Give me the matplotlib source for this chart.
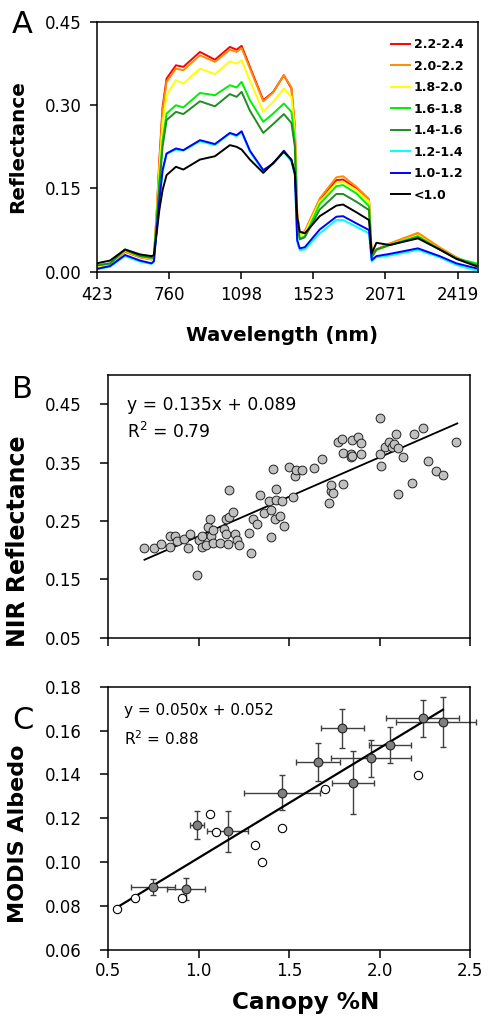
import matplotlib
matplotlib.use('Agg')
import matplotlib.pyplot as plt
import numpy as np

plt.rcParams['font.family'] = 'DejaVu Sans'

# ---- panel A: mean spectra per canopy %N class (x = band position) ----
band_pos = [0, 7.4, 15.7, 24.0, 30.4, 31.7, 33.2, 34.7, 36.5, 38.7, 43.9, 48.0, 57.2,
            65.5, 73.8, 77.5, 80.3, 84.9, 92.3, 97.8, 103.7, 107.9, 109.8, 111.1, 112.5,
            115.3, 123.6, 132.8, 136.5, 143.9, 150.9, 152.4, 155.0, 162.4, 178.0, 190.0,
            199.3, 210.3]
wl_ticks = [0, 40, 80, 120, 160, 200]
wl_labels = ['423', '760', '1098', '1523', '2071', '2419']

class_labels = ['2.2-2.4', '2.0-2.2', '1.8-2.0', '1.6-1.8', '1.4-1.6', '1.2-1.4', '1.0-1.2', '<1.0']
class_colors = ['#ff0000', '#ff8c00', '#ffff00', '#00ee00', '#228b22', '#00ffff', '#0000ff', '#000000']

refl_22 = [0.009, 0.013, 0.036, 0.026, 0.022, 0.027, 0.105, 0.201, 0.297, 0.348, 0.372, 0.369, 0.396,
           0.382, 0.405, 0.400, 0.407, 0.369, 0.309, 0.324, 0.354, 0.330, 0.261, 0.105, 0.069,
           0.072, 0.128, 0.165, 0.166, 0.150, 0.129, 0.030, 0.040, 0.050, 0.068, 0.042, 0.025, 0.010]
refl_20 = [0.009, 0.013, 0.036, 0.026, 0.022, 0.026, 0.102, 0.195, 0.291, 0.342, 0.366, 0.363, 0.390,
           0.378, 0.400, 0.396, 0.403, 0.366, 0.307, 0.323, 0.354, 0.332, 0.262, 0.105, 0.069,
           0.073, 0.132, 0.170, 0.172, 0.153, 0.131, 0.030, 0.040, 0.051, 0.070, 0.044, 0.026, 0.010]
refl_18 = [0.009, 0.013, 0.038, 0.027, 0.023, 0.026, 0.099, 0.183, 0.267, 0.318, 0.345, 0.339, 0.366,
           0.356, 0.379, 0.375, 0.381, 0.344, 0.288, 0.306, 0.330, 0.315, 0.252, 0.102, 0.066,
           0.069, 0.126, 0.160, 0.162, 0.147, 0.126, 0.028, 0.039, 0.048, 0.066, 0.040, 0.024, 0.009]
refl_16 = [0.012, 0.014, 0.040, 0.028, 0.025, 0.026, 0.093, 0.165, 0.237, 0.285, 0.300, 0.296, 0.322,
           0.318, 0.336, 0.332, 0.342, 0.309, 0.270, 0.285, 0.303, 0.288, 0.237, 0.093, 0.060,
           0.063, 0.122, 0.154, 0.156, 0.141, 0.118, 0.027, 0.039, 0.048, 0.064, 0.040, 0.024, 0.015]
refl_14 = [0.011, 0.015, 0.039, 0.028, 0.025, 0.026, 0.087, 0.153, 0.225, 0.273, 0.288, 0.284, 0.307,
           0.298, 0.320, 0.315, 0.324, 0.290, 0.250, 0.266, 0.284, 0.268, 0.225, 0.090, 0.058,
           0.062, 0.112, 0.140, 0.140, 0.126, 0.111, 0.026, 0.040, 0.048, 0.062, 0.040, 0.024, 0.012]
refl_12 = [0.004, 0.009, 0.028, 0.018, 0.014, 0.018, 0.075, 0.126, 0.180, 0.212, 0.220, 0.218, 0.235,
           0.228, 0.249, 0.244, 0.251, 0.216, 0.181, 0.194, 0.216, 0.198, 0.174, 0.054, 0.039,
           0.040, 0.069, 0.093, 0.093, 0.081, 0.069, 0.018, 0.026, 0.029, 0.039, 0.026, 0.012, 0.002]
refl_10 = [0.005, 0.010, 0.030, 0.020, 0.015, 0.019, 0.075, 0.129, 0.183, 0.213, 0.222, 0.219, 0.237,
           0.230, 0.250, 0.246, 0.253, 0.218, 0.183, 0.195, 0.218, 0.201, 0.177, 0.057, 0.042,
           0.044, 0.076, 0.099, 0.100, 0.087, 0.075, 0.021, 0.028, 0.032, 0.042, 0.028, 0.015, 0.006]
refl_lt1 = [0.015, 0.020, 0.040, 0.031, 0.028, 0.030, 0.069, 0.111, 0.147, 0.174, 0.189, 0.184, 0.202,
            0.208, 0.228, 0.225, 0.220, 0.202, 0.178, 0.196, 0.216, 0.202, 0.177, 0.099, 0.072,
            0.069, 0.100, 0.119, 0.121, 0.107, 0.093, 0.033, 0.052, 0.048, 0.060, 0.040, 0.023, 0.010]

# ---- panel B: NIR reflectance vs canopy %N ----
nir_n = [0.70, 0.75, 0.79, 0.84, 0.84, 0.87, 0.88, 0.92, 0.94, 0.95, 0.99, 1.00, 1.02, 1.02, 1.04,
         1.05, 1.06, 1.07, 1.08, 1.08, 1.12, 1.14, 1.15, 1.16, 1.15, 1.17, 1.17, 1.19, 1.20, 1.21,
         1.22, 1.28, 1.29, 1.30, 1.32, 1.34, 1.36, 1.39, 1.40, 1.40, 1.41, 1.42, 1.43, 1.43, 1.45,
         1.46, 1.47, 1.50, 1.52, 1.53, 1.54, 1.57, 1.64, 1.68, 1.72, 1.73, 1.73, 1.74, 1.77, 1.79,
         1.80, 1.80, 1.84, 1.84, 1.85, 1.85, 1.88, 1.90, 1.90, 2.00, 2.00, 2.01, 2.03, 2.05, 2.07,
         2.08, 2.09, 2.10, 2.10, 2.13, 2.18, 2.19, 2.24, 2.27, 2.31, 2.35, 2.42]
nir_refl = [0.204, 0.204, 0.211, 0.205, 0.224, 0.224, 0.215, 0.219, 0.204, 0.228, 0.157, 0.217, 0.224,
            0.205, 0.208, 0.240, 0.254, 0.225, 0.235, 0.212, 0.213, 0.236, 0.254, 0.211, 0.228,
            0.257, 0.303, 0.265, 0.227, 0.217, 0.208, 0.229, 0.195, 0.254, 0.244, 0.294, 0.263,
            0.284, 0.268, 0.223, 0.339, 0.254, 0.305, 0.286, 0.258, 0.285, 0.241, 0.342, 0.291,
            0.327, 0.337, 0.338, 0.340, 0.356, 0.281, 0.301, 0.311, 0.298, 0.385, 0.390, 0.367,
            0.313, 0.364, 0.360, 0.388, 0.362, 0.394, 0.383, 0.364, 0.427, 0.365, 0.344, 0.376,
            0.385, 0.376, 0.381, 0.399, 0.375, 0.296, 0.360, 0.315, 0.399, 0.410, 0.353, 0.335,
            0.328, 0.385]
fitB_slope, fitB_icpt = 0.135, 0.089
fitB_range = [0.70, 2.43]

# ---- panel C: MODIS albedo vs canopy %N ----
grp_n = [0.748, 0.93, 0.989, 1.16, 1.463, 1.66, 1.795, 1.854, 1.953, 2.058, 2.238, 2.351]
grp_alb = [0.0887, 0.0878, 0.117, 0.114, 0.1317, 0.1458, 0.161, 0.1363, 0.1473, 0.1534, 0.1656, 0.164]
grp_n_err_lo = [0.12, 0.106, 0.04, 0.115, 0.21, 0.12, 0.12, 0.117, 0.22, 0.115, 0.20, 0.258]
grp_n_err_hi = [0.12, 0.106, 0.04, 0.115, 0.21, 0.12, 0.12, 0.117, 0.22, 0.115, 0.20, 0.185]
grp_alb_err = [0.0036, 0.005, 0.0065, 0.0093, 0.008, 0.0087, 0.0089, 0.0144, 0.0085, 0.0084, 0.0084, 0.0114]
site_n = [0.548, 0.648, 0.908, 1.065, 1.098, 1.312, 1.349, 1.458, 1.70, 2.21]
site_alb = [0.0785, 0.0835, 0.0837, 0.122, 0.1139, 0.1078, 0.100, 0.1154, 0.1332, 0.1397]
fitC_slope, fitC_icpt = 0.050, 0.052
fitC_range = [0.55, 2.35]

fig = plt.figure(figsize=(4.89, 10.22), dpi=100)

# panel A
axA = fig.add_axes([0.1978, 0.7342, 0.7797, 0.2443])
spectra = [refl_22, refl_20, refl_18, refl_16, refl_14, refl_12, refl_10, refl_lt1]
for vals, lab, col in zip(spectra, class_labels, class_colors):
    axA.plot(band_pos, vals, color=col, lw=1.4, label=lab)
axA.set_xlim(0, 211.3)
axA.set_ylim(0, 0.45)
axA.set_xticks(wl_ticks)
axA.set_xticklabels(wl_labels)
axA.set_yticks([0, 0.15, 0.30, 0.45])
axA.set_yticklabels(['0.00', '0.15', '0.30', '0.45'])
axA.tick_params(axis='y', direction='out', length=5, width=1.1, pad=6, labelsize=12)
axA.tick_params(axis='x', direction='out', length=5, width=1.1, pad=5, labelsize=12)
axA.legend(loc='upper left', bbox_to_anchor=(0.772, 0.935), frameon=False,
           prop={'weight': 'bold', 'size': 9}, handlelength=1.5, handletextpad=0.3,
           labelspacing=0.68, borderpad=0, borderaxespad=0)

# panel B
axB = fig.add_axes([0.2215, 0.376, 0.7396, 0.2571])
axB.scatter(nir_n, nir_refl, s=40, facecolor='#c0c0c0', edgecolor='#222222', linewidth=0.7, zorder=3)
xB = np.array(fitB_range)
axB.plot(xB, fitB_slope * xB + fitB_icpt, color='black', lw=1.3, zorder=2)
axB.set_xlim(0.5, 2.5)
axB.set_ylim(0.05, 0.50)
axB.set_xticks([0.5, 1.0, 1.5, 2.0, 2.5])
axB.tick_params(axis='x', labelbottom=False)
axB.set_yticks([0.05, 0.15, 0.25, 0.35, 0.45])
axB.set_yticklabels(['0.05', '0.15', '0.25', '0.35', '0.45'])
axB.tick_params(direction='out', length=6, width=1.1, labelsize=12)
axB.tick_params(axis='y', pad=13)
axB.text(0.051, 0.886, 'y = 0.135x + 0.089', transform=axB.transAxes, fontsize=12.3, va='center')
axB.text(0.051, 0.784, 'R$^2$ = 0.79', transform=axB.transAxes, fontsize=12.3, va='center')

# panel C
axC = fig.add_axes([0.2215, 0.0705, 0.7396, 0.2576])
axC.errorbar(grp_n, grp_alb, xerr=[grp_n_err_lo, grp_n_err_hi], yerr=grp_alb_err, fmt='none',
             ecolor='#404040', elinewidth=1.0, capsize=2.5, capthick=1.0, zorder=2, clip_on=False)
xC = np.array(fitC_range)
axC.plot(xC, fitC_slope * xC + fitC_icpt, color='black', lw=1.6, zorder=3)
axC.scatter(site_n, site_alb, s=36, facecolor='white', edgecolor='black', linewidth=0.8, zorder=4)
axC.scatter(grp_n, grp_alb, s=40, facecolor='#808080', edgecolor='#222222', linewidth=0.8, zorder=5)
axC.set_xlim(0.5, 2.5)
axC.set_ylim(0.06, 0.18)
axC.set_xticks([0.5, 1.0, 1.5, 2.0, 2.5])
axC.set_xticklabels(['0.5', '1.0', '1.5', '2.0', '2.5'])
axC.set_yticks([0.06, 0.08, 0.10, 0.12, 0.14, 0.16, 0.18])
axC.set_yticklabels(['0.06', '0.08', '0.10', '0.12', '0.14', '0.16', '0.18'])
axC.tick_params(direction='out', length=6, width=1.1, labelsize=12)
axC.tick_params(axis='y', pad=13)
axC.tick_params(axis='x', pad=3)
axC.text(0.044, 0.911, 'y = 0.050x + 0.052', transform=axC.transAxes, fontsize=11, va='center')
axC.text(0.044, 0.804, 'R$^2$ = 0.88', transform=axC.transAxes, fontsize=11, va='center')

for ax in (axA, axB, axC):
    for sp in ax.spines.values():
        sp.set_linewidth(1.1)

# labels and panel letters
fig.text(0.0358, 0.8565, 'Reflectance', rotation=90, ha='center', va='center', fontsize=14.4, fontweight='bold')
fig.text(0.5767, 0.6722, 'Wavelength (nm)', ha='center', va='center', fontsize=14.2, fontweight='bold')
fig.text(0.0368, 0.4708, 'NIR Reflectance', rotation=90, ha='center', va='center', fontsize=17, fontweight='bold')
fig.text(0.0368, 1 - 834 / 1022, 'MODIS Albedo', rotation=90, ha='center', va='center', fontsize=16, fontweight='bold')
fig.text(0.6258, 0.0186, 'Canopy %N', ha='center', va='center', fontsize=16.7, fontweight='bold')
fig.text(0.0245, 1 - 33 / 1022, 'A', fontsize=22, va='baseline')
fig.text(0.0245, 1 - 398 / 1022, 'B', fontsize=22, va='baseline')
fig.text(0.0245, 1 - 729 / 1022, 'C', fontsize=22, va='baseline')

plt.savefig('out.png', dpi=100)
